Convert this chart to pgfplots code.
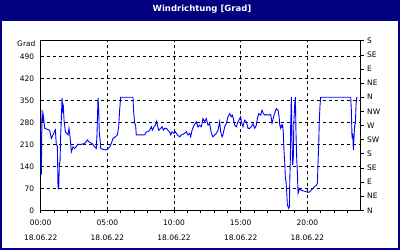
\documentclass[border=0pt]{standalone}
\usepackage{pgfplots}
\pgfplotsset{compat=1.18}
\usepackage{fontspec}
\setmainfont{DejaVu Sans}
\definecolor{navy}{RGB}{0,0,128}
\definecolor{lineblue}{RGB}{0,0,255}
\pgfplotstableread{
h d
0 250
0.05 114
0.1 319
0.15 282
0.2 300
0.3 261
0.67 255
0.8 229
0.92 240
1.1 256
1.17 210
1.25 205
1.3 68
1.35 68
1.4 149
1.45 155
1.5 240
1.55 293
1.6 358
1.65 319
1.7 330
1.75 287
1.85 250
1.95 245
2.05 240
2.12 261
2.2 235
2.3 186
2.42 202
2.55 197
2.8 210
3.05 210
3.3 213
3.5 224
3.67 216
3.85 213
4.05 202
4.17 197
4.22 240
4.27 314
4.3 358
4.35 319
4.4 240
4.45 229
4.5 197
4.67 194
4.92 192
5.05 197
5.17 202
5.3 213
5.42 229
5.6 234
5.75 240
5.85 266
5.92 320
6.0 360
6.92 360
6.97 314
7.05 277
7.12 271
7.17 240
7.3 240
7.55 240
7.8 240
7.92 250
8.05 250
8.17 255
8.3 266
8.37 255
8.5 266
8.6 271
8.7 284
8.75 271
8.85 255
9.0 261
9.1 266
9.2 255
9.3 261
9.42 261
9.55 255
9.67 250
9.75 240
9.85 250
10.0 245
10.1 250
10.25 240
10.42 234
10.55 240
10.67 242
10.8 245
10.92 250
11.05 240
11.17 245
11.25 234
11.35 255
11.45 266
11.67 282
11.8 265
11.92 271
12.05 266
12.17 292
12.3 282
12.42 292
12.55 271
12.67 276
12.8 245
12.92 234
13.05 240
13.17 245
13.3 255
13.42 282
13.5 250
13.6 234
13.67 240
13.8 266
13.92 276
14.05 298
14.17 308
14.3 298
14.37 303
14.45 292
14.55 271
14.67 266
14.8 282
14.92 292
15.0 298
15.05 282
15.17 266
15.3 287
15.42 282
15.55 261
15.67 261
15.8 266
15.92 276
16.05 261
16.17 271
16.25 292
16.35 308
16.5 303
16.6 319
16.7 308
16.8 303
16.92 305
17.1 303
17.25 305
17.35 277
17.5 303
17.67 324
17.8 319
17.88 298
17.93 271
18.0 261
18.05 271
18.1 266
18.15 271
18.2 245
18.25 186
18.3 155
18.35 102
18.4 92
18.45 60
18.5 17
18.55 12
18.6 6
18.65 12
18.68 91
18.73 176
18.75 271
18.8 360
18.83 282
18.85 218
18.9 144
18.95 170
18.98 271
19.0 292
19.05 335
19.1 360
19.15 240
19.2 166
19.25 123
19.3 54
19.35 59
19.4 70
19.5 65
19.68 62
19.93 59
20.05 57
20.18 59
20.3 65
20.43 70
20.55 76
20.68 80
20.75 86
20.8 149
20.85 208
20.9 292
20.95 335
21.0 360
23.25 360
23.3 319
23.35 229
23.4 245
23.45 192
23.5 234
23.55 271
23.6 276
23.65 335
23.7 358
23.75 360
}\winddata
\begin{document}
\begin{tikzpicture}
\useasboundingbox (0pt,0pt) rectangle (400pt,250pt);
\fill[navy] (0pt,0pt) rectangle (400pt,250pt);
\fill[white] (2pt,2pt) rectangle (398pt,229.5pt);
\node[font=\fontsize{8.5}{10}\selectfont\bfseries, text=white] at (202pt,241pt) {Windrichtung [Grad]};
\node[anchor=north east, inner sep=0pt, font=\fontsize{7.5}{9}\selectfont] at (35.7pt,209.6pt) {Grad};
\begin{axis}[
  at={(40.7pt,39.7pt)}, anchor=south west,
  scale only axis, width=320pt, height=169.6pt,
  xmin=0, xmax=24, ymin=0, ymax=540,
  axis line style={black, line width=0.8pt},
  xtick={0,5,10,15,20},
  minor xtick={1,2,3,4,6,7,8,9,11,12,13,14,16,17,18,19,21,22,23},
  xticklabels={{00:00\\18.06.22},{05:00\\18.06.22},{10:00\\18.06.22},{15:00\\18.06.22},{20:00\\18.06.22}},
  xticklabel style={align=center, font=\fontsize{7.5}{14.5}\selectfont, yshift=-3.5pt},
  ytick={0,70,140,210,280,350,420,490},
  yticklabel style={font=\fontsize{7.5}{9}\selectfont},
  /pgf/number format/assume math mode=true,
  tick align=outside,
  major tick length=3pt, minor tick length=3pt,
  xtick pos=bottom,
  ytick style={draw=none},
  xtick style={black, line width=0.6pt},
  minor tick style={black, line width=0.6pt},
  xmajorgrids, ymajorgrids,
  major grid style={black, dash pattern=on 3pt off 3pt, line width=0.8pt},
]
\addplot[lineblue, line width=0.9pt] table[x=h, y=d] {\winddata};
\end{axis}
\begin{axis}[
  at={(40.7pt,39.7pt)}, anchor=south west,
  scale only axis, width=320pt, height=169.6pt,
  xmin=0, xmax=24, ymin=0, ymax=540,
  axis y line*=right, hide x axis,
  axis line style={black, line width=0.8pt},
  ytick={0,45,...,540},
  yticklabels={N,NE,E,SE,S,SW,W,NW,N,NE,E,SE,S},
  yticklabel style={font=\fontsize{7.5}{9}\selectfont},
  tick align=outside, major tick length=3pt,
  ytick style={black, line width=0.6pt},
]
\end{axis}
\end{tikzpicture}
\end{document}
